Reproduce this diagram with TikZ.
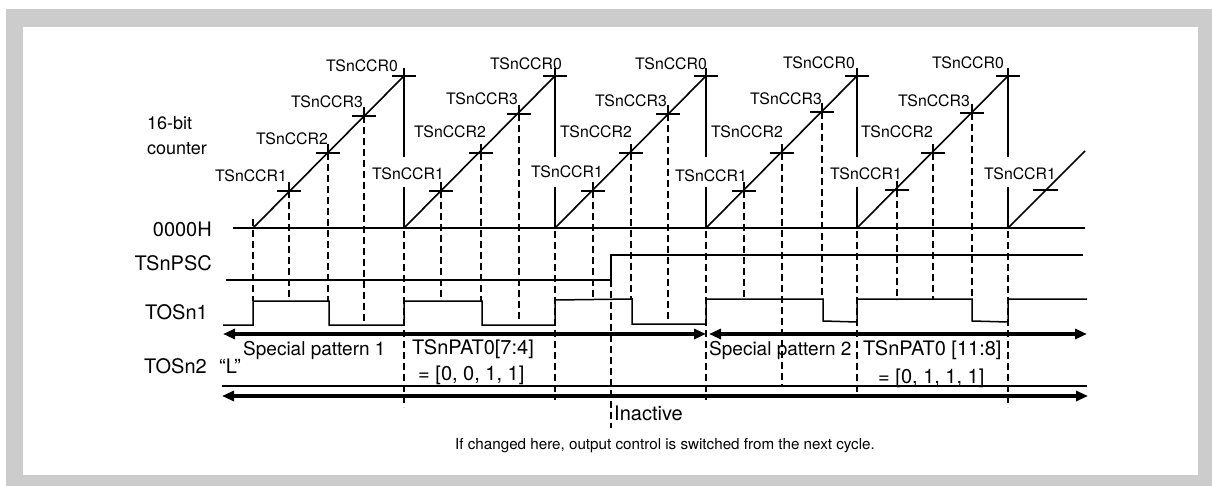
\documentclass[tikz,border=0pt]{standalone}
\usepackage{fontspec}
\setmainfont{TeX Gyre Heros}
\usetikzlibrary{arrows.meta}
\begin{document}
\begin{tikzpicture}[x=1pt,y=-1pt,
  thinline/.style={line width=1.5pt},
  rampline/.style={line width=1.6pt},
  dashline/.style={line width=2.7pt, dash pattern=on 7pt off 4pt},
  bigarrow/.style={line width=3.3pt, {Triangle[length=12pt,width=10pt]}-{Triangle[length=12pt,width=10pt]}},
  small/.style={font=\fontsize{15.8}{18}\selectfont, inner sep=0pt},
  mid/.style={font=\fontsize{18}{22}\selectfont, inner sep=0pt},
  big/.style={font=\fontsize{20}{24}\selectfont, inner sep=0pt},
  tiny/.style={font=\fontsize{15.2}{18}\selectfont, inner sep=0pt},
]
\useasboundingbox (0,0) rectangle (1212,486);
\fill[white] (0,0) rectangle (1212,486);
\fill[gray!40] (6,9) rectangle (1212,486);
\fill[white] (23,27) rectangle (1198,475);

% ---- dashed verticals from CCR1..3 points
\foreach \x/\y/\b in {289/191/301, 328/153/301, 364/116/323,
                      441/191/299, 481/153/301, 519/114/321,
                      593/191/299, 631/153/299, 668/114/322,
                      744/191/299, 782/153/386, 822/112/299,
                      897/190/300, 933/153/300, 972/113/299}{
  \draw[dashline] (\x,\y) -- (\x,\b);
  \draw[thinline] (\x-12,\y) -- (\x+12,\y);
  \draw[thinline] (\x,\y-9) -- (\x,\y);
}
% CCR1 tick of last cycle
\draw[thinline] (1033,190) -- (1058,190);

% ---- cycle start of first cycle
\draw[dashline] (253,219) -- (253,301);

% ---- ramps
\foreach \s in {253,404,555,706,857}{
  \draw[rampline] (\s,228) -- (\s+151,76);
}
\draw[rampline] (1008,228) -- (1085,151);

% ---- resets (CCR0)
\foreach \x/\b in {404/407, 555/400, 706/400, 857/398, 1008/407}{
  \draw[thinline] (\x,68) -- (\x,157);
  \draw[thinline] (\x,187) -- (\x,228);
  \draw[thinline] (\x-12,76) -- (\x+12,76);
  \draw[dashline] (\x,76) -- (\x,157);
  \draw[dashline] (\x,187) -- (\x,\b);
}

% ---- 0000H base line
\draw[thinline] (233,228) -- (1085,228);

% ---- TSnPSC
\draw[thinline] (226,280) -- (611,280) -- (611,255) -- (1083,255);
\draw[dashline] (611,280) -- (611,428);

% ---- TOSn1
\draw[thinline] (223,325) -- (253,325) -- (253,301) -- (329,301) -- (329,325)
  -- (404,325) -- (404,301) -- (482,301) -- (482,325) -- (555,325) -- (555,300)
  -- (632,299) -- (632,324) -- (706,324) -- (706,299) -- (823,299) -- (823,321)
  -- (857,322) -- (857,299) -- (972,299) -- (972,321) -- (1008,322) -- (1008,299)
  -- (1087,299);

% ---- TOSn2
\draw[thinline] (222,386) -- (1087,386);

% ---- arrows
\coordinate (a1l) at (223,334);
\coordinate (a1r) at (706,334);
\coordinate (a2l) at (709,334);
\coordinate (a2r) at (1087,334);
\coordinate (a3l) at (222,396);
\coordinate (a3r) at (1088,396);
\draw[bigarrow] (a1l) -- (a1r);
\draw[bigarrow] (a2l) -- (a2r);
\draw[bigarrow] (a3l) -- (a3r);

% ---- CCR labels
\foreach \x/\y [count=\i] in {287/182, 444/180, 603/178, 747/182, 902/180, 1056/180}{
  \node[small, anchor=base east] (ccrone\i) at (\x,\y) {TSnCCR1};
}
\foreach \x/\y [count=\i] in {328/145, 486/138, 632/138, 783/138, 933/138}{
  \node[small, anchor=base east] (ccrtwo\i) at (\x,\y) {TSnCCR2};
}
\foreach \x/\y [count=\i] in {363/108, 518/105, 667/107, 822/105, 970/107}{
  \node[small, anchor=base east] (ccrthree\i) at (\x,\y) {TSnCCR3};
}
\foreach \x/\y [count=\i] in {398/72, 562/70, 707/70, 855/69, 1004/69}{
  \node[small, anchor=base east] (ccrzero\i) at (\x,\y) {TSnCCR0};
}

% ---- row labels
\node[mid, anchor=base west] (cnt1) at (147,130) {16-bit};
\node[mid, anchor=base west] (cnt2) at (147,155) {counter};
\node[big, anchor=base east] (zero) at (212,237) {0000H};
\node[big, anchor=base east] (psc) at (212,270) {TSnPSC};
\node[big, anchor=base east] (tos1) at (208,319) {TOSn1};
\node[big, anchor=base east] (tos2) at (207,373) {TOSn2};
\node[big, anchor=base west] (lval) at (219,373) {“L”};

\node[font=\fontsize{19}{22}\selectfont, inner sep=0pt, anchor=base west] (sp1) at (243,355) {Special pattern 1};
\node[big, anchor=base west] (pat1) at (412,354) {TSnPAT0[7:4]};
\node[big, anchor=base west] (pat1v) at (418,380) {= [0, 0, 1, 1]};
\node[font=\fontsize{19}{22}\selectfont, inner sep=0pt, anchor=base west] (sp2) at (709,355) {Special pattern 2};
\node[big, anchor=base west] (pat2) at (863,355) {TSnPAT0 [11:8]};
\node[big, anchor=base west] (pat2v) at (878,383) {= [0, 1, 1, 1]};
\node[big, anchor=base west] (inact) at (614,420) {Inactive};
\node[tiny, anchor=base] (note) at (665,449) {If changed here, output control is switched from the next cycle.};
\end{tikzpicture}
\end{document}
